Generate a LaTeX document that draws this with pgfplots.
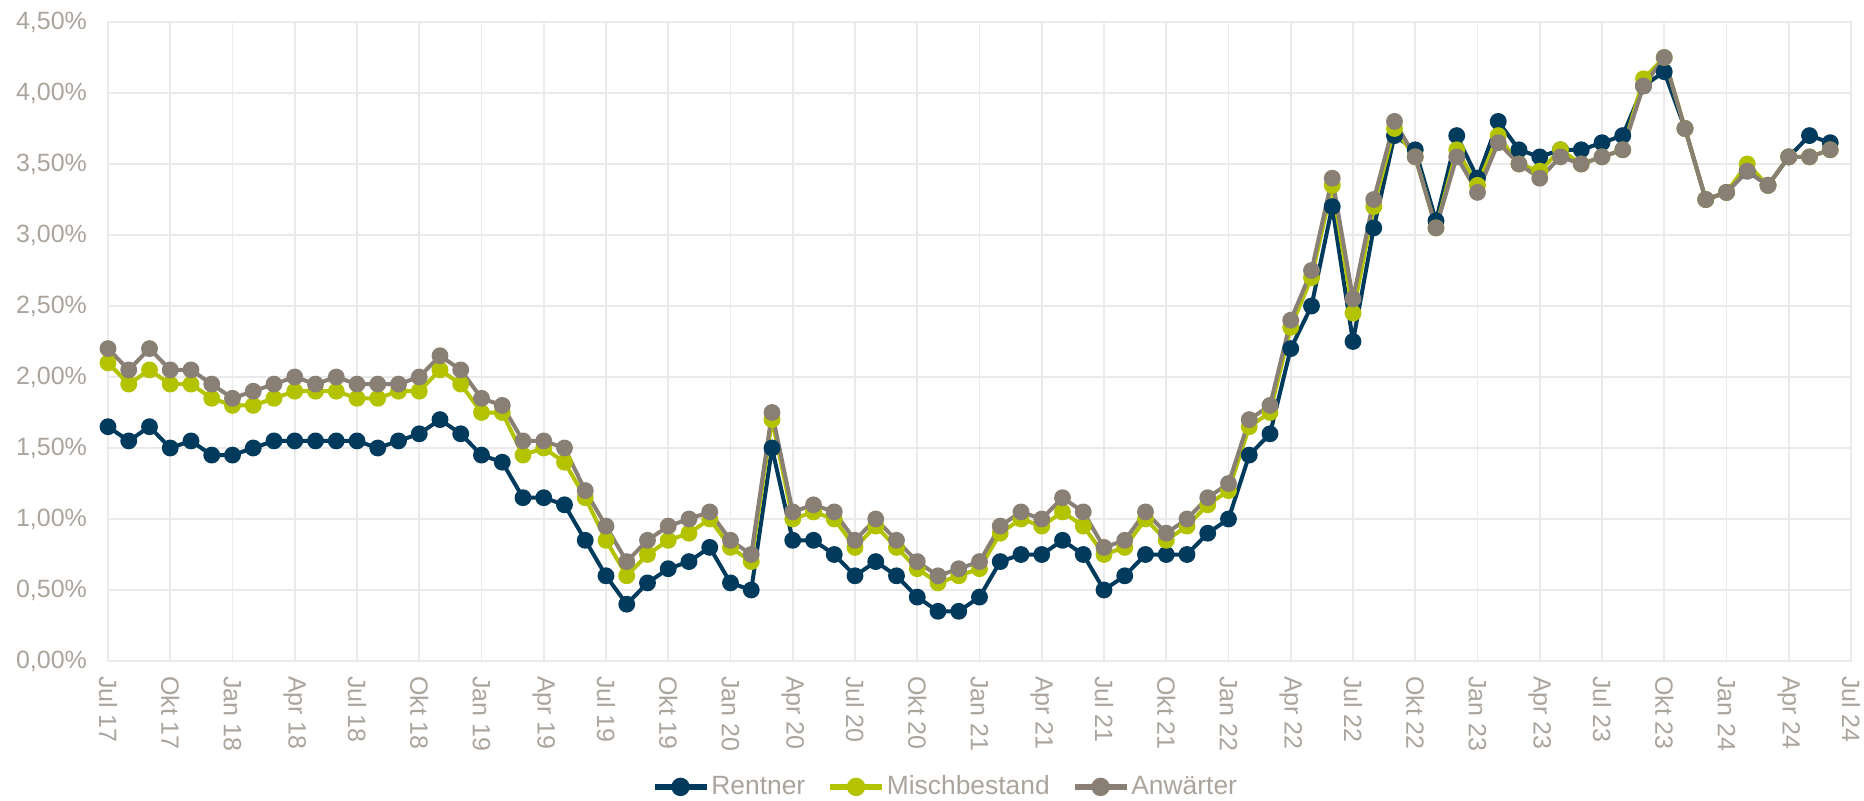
\documentclass[border=0pt]{standalone}
\usepackage{pgfplots}
\pgfplotsset{compat=1.18}
\usepackage{pgfplotstable}
\usepackage{fontspec}
\setmainfont{Liberation Sans}
\definecolor{rentner}{HTML}{003A5C}
\definecolor{misch}{HTML}{B3C300}
\definecolor{anw}{HTML}{8A7F74}
\definecolor{txtgray}{HTML}{ABA49D}
\definecolor{gridgray}{HTML}{EAEAEA}
\pgfplotstableread{
i r m a
0 1.65 2.10 2.20
1 1.55 1.95 2.05
2 1.65 2.05 2.20
3 1.50 1.95 2.05
4 1.55 1.95 2.05
5 1.45 1.85 1.95
6 1.45 1.80 1.85
7 1.50 1.80 1.90
8 1.55 1.85 1.95
9 1.55 1.90 2.00
10 1.55 1.90 1.95
11 1.55 1.90 2.00
12 1.55 1.85 1.95
13 1.50 1.85 1.95
14 1.55 1.90 1.95
15 1.60 1.90 2.00
16 1.70 2.05 2.15
17 1.60 1.95 2.05
18 1.45 1.75 1.85
19 1.40 1.75 1.80
20 1.15 1.45 1.55
21 1.15 1.50 1.55
22 1.10 1.40 1.50
23 0.85 1.15 1.20
24 0.60 0.85 0.95
25 0.40 0.60 0.70
26 0.55 0.75 0.85
27 0.65 0.85 0.95
28 0.70 0.90 1.00
29 0.80 1.00 1.05
30 0.55 0.80 0.85
31 0.50 0.70 0.75
32 1.50 1.70 1.75
33 0.85 1.00 1.05
34 0.85 1.05 1.10
35 0.75 1.00 1.05
36 0.60 0.80 0.85
37 0.70 0.95 1.00
38 0.60 0.80 0.85
39 0.45 0.65 0.70
40 0.35 0.55 0.60
41 0.35 0.60 0.65
42 0.45 0.65 0.70
43 0.70 0.90 0.95
44 0.75 1.00 1.05
45 0.75 0.95 1.00
46 0.85 1.05 1.15
47 0.75 0.95 1.05
48 0.50 0.75 0.80
49 0.60 0.80 0.85
50 0.75 1.00 1.05
51 0.75 0.85 0.90
52 0.75 0.95 1.00
53 0.90 1.10 1.15
54 1.00 1.20 1.25
55 1.45 1.65 1.70
56 1.60 1.75 1.80
57 2.20 2.35 2.40
58 2.50 2.70 2.75
59 3.20 3.35 3.40
60 2.25 2.45 2.55
61 3.05 3.20 3.25
62 3.70 3.75 3.80
63 3.60 3.55 3.55
64 3.10 3.05 3.05
65 3.70 3.60 3.55
66 3.40 3.35 3.30
67 3.80 3.70 3.65
68 3.60 3.50 3.50
69 3.55 3.45 3.40
70 3.60 3.60 3.55
71 3.60 3.50 3.50
72 3.65 3.55 3.55
73 3.70 3.60 3.60
74 4.05 4.10 4.05
75 4.15 4.25 4.25
76 3.75 3.75 3.75
77 3.25 3.25 3.25
78 3.30 3.30 3.30
79 3.45 3.50 3.45
80 3.35 3.35 3.35
81 3.55 3.55 3.55
82 3.70 3.55 3.55
83 3.65 3.60 3.60
}\datatable
\begin{document}
\begin{tikzpicture}
\useasboundingbox (-54pt,-69.5pt) rectangle (878pt,330.5pt);
\begin{axis}[
  at={(0pt,0pt)}, anchor=south west,
  scale only axis,
  width=871.5pt, height=319.5pt,
  xmin=0, xmax=84, ymin=0, ymax=4.5,
  clip=false,
  font=\fontsize{12}{14}\selectfont,
  axis line style={draw=gridgray, line width=0.9pt},
  grid=major,
  major grid style={draw=gridgray, line width=0.9pt},
  tick style={draw=none},
  xtick={0,3,...,84},
  xticklabels={Jul 17,Okt 17,Jan 18,Apr 18,Jul 18,Okt 18,Jan 19,Apr 19,Jul 19,Okt 19,Jan 20,Apr 20,Jul 20,Okt 20,Jan 21,Apr 21,Jul 21,Okt 21,Jan 22,Apr 22,Jul 22,Okt 22,Jan 23,Apr 23,Jul 23,Okt 23,Jan 24,Apr 24,Jul 24},
  xticklabel style={rotate=-90, anchor=west, text=txtgray, font=\fontsize{12.5}{14}\selectfont},
  xticklabel shift=4pt,
  ytick={0,0.5,...,4.5},
  yticklabels={{0,00\%},{0,50\%},{1,00\%},{1,50\%},{2,00\%},{2,50\%},{3,00\%},{3,50\%},{4,00\%},{4,50\%}},
  yticklabel style={text=txtgray, font=\fontsize{12.5}{14}\selectfont},
  yticklabel shift=7pt,
  legend columns=3,
  legend style={draw=none, fill=none, at={(rel axis cs:0.481,-0.197)}, anchor=center,
    font=\fontsize{13.2}{15}\selectfont, text=txtgray,
    /tikz/every even column/.append style={column sep=9pt},
    /tikz/every odd column/.append style={column sep=-1pt},
    inner sep=0pt},
  legend image code/.code={\draw[mark repeat=2,mark phase=2,#1,line width=2.8pt,mark size=3.2pt] plot coordinates {(0pt,0pt) (13pt,0pt) (26pt,0pt)};},
  every axis plot/.append style={line width=2pt, mark=*, mark size=3.2pt, line join=round},
]
\addplot[color=rentner, mark options={fill=rentner, draw=rentner}] table[x=i,y=r]{\datatable};
\addlegendentry{Rentner}
\addplot[color=misch, mark options={fill=misch, draw=misch}] table[x=i,y=m]{\datatable};
\addlegendentry{Mischbestand}
\addplot[color=anw, mark options={fill=anw, draw=anw}] table[x=i,y=a]{\datatable};
\addlegendentry{Anwärter}
\end{axis}
\end{tikzpicture}
\end{document}
